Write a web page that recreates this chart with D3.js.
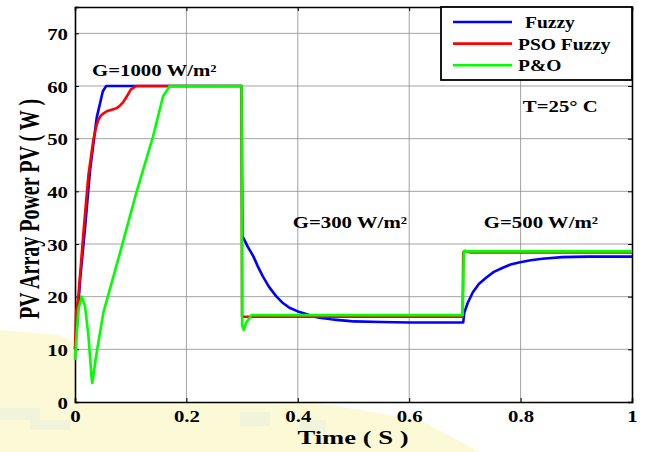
<!DOCTYPE html>
<html>
<head>
<meta charset="utf-8">
<script src="https://cdn.jsdelivr.net/npm/d3@7"></script>
<style>
body { margin: 0; background: #fff; }
text { font-family: "Liberation Serif", "Times New Roman", serif; font-weight: bold; fill: #000; }
</style>
</head>
<body>
<div id="graph"></div>
<script>
// ticks
var xTicks = [0, 0.2, 0.4, 0.6, 0.8, 1];
var xTickLabels = ["0", "0.2", "0.4", "0.6", "0.8", "1"];
var yTicks = [0, 10, 20, 30, 40, 50, 60, 70];
var yTickLabels = ["0", "10", "20", "30", "40", "50", "60", "70"];

// series
var seriesNames = ["Fuzzy", "PSO Fuzzy", "P&O"];

var fuzzyTime  = [0, 0.004, 0.009, 0.018, 0.027, 0.039, 0.05, 0.056, 0.062, 0.1, 0.2, 0.299,
                  0.3005, 0.305, 0.31, 0.315, 0.32, 0.328, 0.337, 0.348, 0.361, 0.372, 0.385, 0.40, 0.415,
                  0.43, 0.439, 0.46, 0.469, 0.49, 0.5, 0.55, 0.6, 0.65, 0.697,
                  0.699, 0.705, 0.714, 0.725, 0.738, 0.752, 0.768, 0.782, 0.797, 0.818, 0.839, 0.875, 0.92, 1.0];
var fuzzyPower = [10, 15, 23, 33, 44, 54, 59, 60, 60, 60, 60, 60,
                  31.5, 30.6, 29.5, 28.6, 27.7, 25.8, 23.9, 21.9, 20.1, 18.9, 17.9, 17.2, 16.7,
                  16.2, 16.0, 15.7, 15.6, 15.4, 15.3, 15.2, 15.1, 15.1, 15.1,
                  17, 18.8, 20.8, 22.4, 23.6, 24.7, 25.5, 26.1, 26.5, 26.9, 27.2, 27.5, 27.6, 27.6];

var psoTime  = [0, 0.002, 0.006, 0.015, 0.024, 0.033, 0.038, 0.042, 0.046, 0.05, 0.057, 0.066, 0.075, 0.081,
                0.087, 0.094, 0.10, 0.11, 0.2, 0.299, 0.3, 0.45, 0.6, 0.696, 0.697, 0.70, 0.71, 0.8, 1.0];
var psoPower = [10, 17, 20, 32, 43, 49.8, 52.2, 53.6, 54.3, 54.7, 55.2, 55.5, 55.8, 56.3,
                57, 58.2, 59.3, 60, 60, 60, 16.2, 16.2, 16.2, 16.2, 28.4, 28.7, 28.4, 28.4, 28.4];

var poTime  = [0, 0.006, 0.012, 0.018, 0.024, 0.030, 0.031, 0.039, 0.051, 0.081, 0.11, 0.14, 0.158, 0.17,
               0.2, 0.299, 0.3, 0.303, 0.307, 0.317, 0.5, 0.696, 0.698, 1.0];
var poPower = [8, 17.6, 20, 18.2, 12.6, 4.4, 3.6, 9.5, 17, 28.4, 39.7, 50.4, 58, 60,
               60, 60, 14.5, 13.7, 15, 16.5, 16.5, 16.5, 28.6, 28.6];

// annotations (time, power, text)
var noteText  = ["G=1000 W/m\u00b2", "G=300 W/m\u00b2", "G=500 W/m\u00b2", "T=25\u00b0 C"];
var noteTime  = [0.0305, 0.391, 0.734, 0.804];
var notePower = [61.9, 33.0, 33.0, 55.0];

var width = 645, height = 452;
var mLeft = 75, mRight = 632, mTop = 7, mBottom = 402;
var stretch = 1.3;   // text in the picture is wider than normal Times

var colors = ["#0000ff", "#ff0000", "#00ff00"];

var svg = d3.select("#graph").append("svg")
    .attr("width", width)
    .attr("height", height);

// faint watermark in lower left
var wm = svg.append("g");
wm.append("path")
    .attr("d", "M0,330 L60,335 L140,380 L230,395 L330,405 L420,420 L480,452 L0,452 Z")
    .attr("fill", "#fcf9d6");
[[0, 408, 40, 12], [30, 420, 40, 10], [240, 412, 30, 14], [300, 420, 26, 12]]
    .forEach(function(b) {
        wm.append("rect").attr("x", b[0]).attr("y", b[1]).attr("width", b[2]).attr("height", b[3])
            .attr("fill", "#e8eddf").attr("opacity", 0.5);
    });

var x = d3.scaleLinear().domain([0, 1]).range([mLeft, mRight]);
var y = d3.scaleLinear().domain([0, 75]).range([mBottom, mTop]);

svg.append("rect")
    .attr("x", mLeft).attr("y", mTop)
    .attr("width", mRight - mLeft).attr("height", mBottom - mTop)
    .attr("fill", "#fff");

// grid
var grid = svg.append("g").attr("class", "grid");
grid.selectAll(".gx").data(xTicks.slice(1, -1)).enter().append("line")
    .attr("x1", function(d) { return x(d); }).attr("x2", function(d) { return x(d); })
    .attr("y1", mTop).attr("y2", mBottom)
    .attr("stroke", "#8c8c8c").attr("stroke-width", 0.8);
grid.selectAll(".gy").data(yTicks.slice(1)).enter().append("line")
    .attr("y1", function(d) { return y(d); }).attr("y2", function(d) { return y(d); })
    .attr("x1", mLeft).attr("x2", mRight)
    .attr("stroke", "#8c8c8c").attr("stroke-width", 0.8);

// axes with inward ticks on all four sides
var xAxis = d3.axisBottom(x).tickValues(xTicks).tickSize(-4)
    .tickFormat(function(d, i) { return xTickLabels[i]; });
var yAxis = d3.axisLeft(y).tickValues(yTicks).tickSize(-4)
    .tickFormat(function(d, i) { return yTickLabels[i]; });

var gX = svg.append("g").attr("transform", "translate(0," + mBottom + ")").call(xAxis);
gX.selectAll("text")
    .attr("y", null).attr("dy", null)
    .attr("transform", "translate(0,20) scale(" + stretch + ",1)")
    .style("font-size", "16px");
var gY = svg.append("g").attr("transform", "translate(" + mLeft + ",0)").call(yAxis);
gY.selectAll("text")
    .attr("x", null).attr("dy", null)
    .attr("transform", "translate(-7,6) scale(" + stretch + ",1)")
    .style("font-size", "16px");

svg.append("g").attr("transform", "translate(0," + mTop + ")")
    .call(d3.axisTop(x).tickValues(xTicks).tickSize(-4).tickFormat(""));
svg.append("g").attr("transform", "translate(" + mRight + ",0)")
    .call(d3.axisRight(y).tickValues(yTicks).tickSize(-4).tickFormat(""));

svg.selectAll(".domain").attr("stroke", "#000").attr("stroke-width", 1.6);
svg.selectAll(".tick line").attr("stroke", "#000");
svg.selectAll("g").attr("font-family", null).attr("font-size", null);

// series
var data = [
    { key: seriesNames[0], t: fuzzyTime, p: fuzzyPower },
    { key: seriesNames[1], t: psoTime, p: psoPower },
    { key: seriesNames[2], t: poTime, p: poPower }
];

var line = d3.line()
    .x(function(d) { return x(d[0]); })
    .y(function(d) { return y(d[1]); });

var plot = svg.append("g");
plot.selectAll(".line")
    .data(data)
    .enter()
    .append("path")
    .attr("class", "line")
    .attr("fill", "none")
    .attr("stroke-width", 2.6)
    .attr("stroke-linejoin", "round")
    .attr("stroke", function(d, i) { return colors[i]; })
    .attr("d", function(d) { return line(d.t.map(function(t, i) { return [t, d.p[i]]; })); });

// annotations
noteText.forEach(function(txt, i) {
    svg.append("text")
        .attr("transform", "translate(" + x(noteTime[i]) + "," + y(notePower[i]) + ") scale(" + stretch + ",1)")
        .style("font-size", "16px")
        .text(txt);
});

// legend
var legend = svg.append("g");
legend.append("rect")
    .attr("x", 441).attr("y", mTop)
    .attr("width", mRight - 441).attr("height", 73)
    .attr("fill", "#fff").attr("stroke", "#000").attr("stroke-width", 1.8);
var legendTextX = [525, 518, 518];
seriesNames.forEach(function(name, i) {
    var ly = 22 + i * 21.6;
    legend.append("line")
        .attr("x1", 453).attr("x2", 512).attr("y1", ly).attr("y2", ly)
        .attr("stroke", colors[i]).attr("stroke-width", 2.6);
    legend.append("text")
        .attr("transform", "translate(" + legendTextX[i] + "," + (ly + 6) + ") scale(1.22,1)")
        .style("font-size", "16px")
        .text(name);
});

// axis titles
svg.append("text")
    .attr("transform", "translate(353,444) scale(1.4,1)")
    .attr("text-anchor", "middle")
    .style("font-size", "19px")
    .text("Time ( S )");
svg.append("text")
    .attr("transform", "translate(39,209) scale(1.45,1) rotate(-90)")
    .attr("text-anchor", "middle")
    .style("font-size", "20px")
    .text("PV Array Power PV ( W )");
</script>
</body>
</html>
